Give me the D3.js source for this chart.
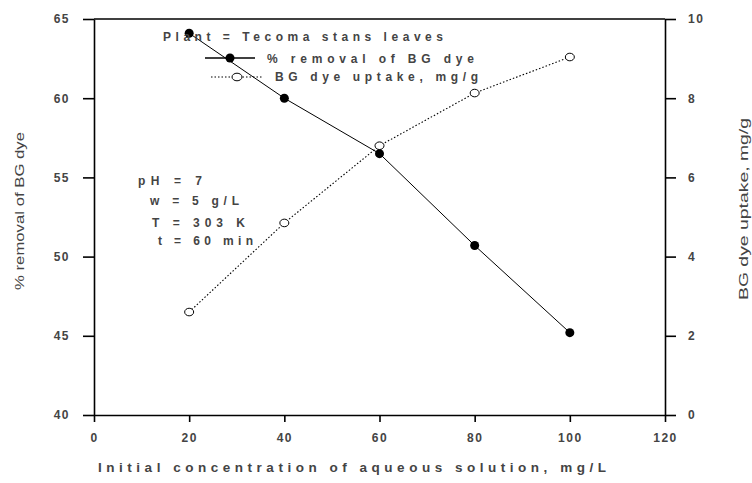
<!DOCTYPE html>
<html>
<head>
<meta charset="utf-8">
<script src="https://cdn.jsdelivr.net/npm/d3@7"></script>
<style>
  body { margin: 0; background: #fff; }
  text { font-family: "Liberation Sans", Arial, sans-serif; fill: #444; }
</style>
</head>
<body>
<div id="chart"></div>
<script>
// data
const concentration = [20, 40, 60, 80, 100]
const removal = [64.1, 60.0, 56.5, 50.7, 45.2] // % removal of BG dye (left axis)
const uptake = [2.6, 4.85, 6.8, 8.13, 9.04]     // BG dye uptake, mg/g (right axis)
const xTicks = [0, 20, 40, 60, 80, 100, 120]
const leftTicks = [40, 45, 50, 55, 60, 65]
const rightTicks = [0, 2, 4, 6, 8, 10]
const conditions = ["pH = 7", "w = 5 g/L", "T = 303 K", "t = 60 min"]

const W = 752, H = 483
const plot = { left: 94, right: 665, top: 19, bottom: 415 }

const svg = d3.select("#chart").append("svg").attr("width", W).attr("height", H)

const x = d3.scaleLinear().domain([0, 120]).range([plot.left, plot.right])
const yL = d3.scaleLinear().domain([40, 65]).range([plot.bottom, plot.top])
const yR = d3.scaleLinear().domain([0, 10]).range([plot.bottom, plot.top])

// axes
const styleAxis = (g) => {
  g.select(".domain").attr("stroke", "#000").attr("stroke-width", 1.6)
  g.selectAll(".tick line").attr("stroke", "#000").attr("stroke-width", 1.6)
  g.selectAll(".tick text")
    .attr("font-size", 12)
    .attr("font-weight", "bold")
    .attr("letter-spacing", 1.5)
    .attr("fill", "#555")
    .style("font-family", '"Liberation Sans", Arial, sans-serif')
}

svg.append("g")
  .attr("transform", `translate(0,${plot.bottom})`)
  .call(d3.axisBottom(x).tickValues(xTicks).tickSize(7).tickSizeOuter(0).tickPadding(11))
  .call(styleAxis)

svg.append("g")
  .attr("transform", `translate(${plot.left},0)`)
  .call(d3.axisLeft(yL).tickValues(leftTicks).tickSize(11).tickSizeOuter(0).tickPadding(13))
  .call(styleAxis)

svg.append("g")
  .attr("transform", `translate(${plot.right},0)`)
  .call(d3.axisRight(yR).tickValues(rightTicks).tickSize(11).tickSizeOuter(0).tickPadding(12))
  .call(styleAxis)

// top frame line
svg.append("line")
  .attr("x1", plot.left).attr("x2", plot.right)
  .attr("y1", plot.top).attr("y2", plot.top)
  .attr("stroke", "#000").attr("stroke-width", 1.6)

// series
const removalData = concentration.map((c, i) => ({ c, v: removal[i] }))
const uptakeData = concentration.map((c, i) => ({ c, v: uptake[i] }))

svg.append("path")
  .datum(uptakeData)
  .attr("fill", "none").attr("stroke", "#000").attr("stroke-width", 1.1)
  .attr("stroke-dasharray", "1.5,2")
  .attr("d", d3.line().x((d) => x(d.c)).y((d) => yR(d.v)))

svg.append("path")
  .datum(removalData)
  .attr("fill", "none").attr("stroke", "#000").attr("stroke-width", 1)
  .attr("d", d3.line().x((d) => x(d.c)).y((d) => yL(d.v)))

svg.append("g").selectAll("ellipse")
  .data(uptakeData).join("ellipse")
  .attr("cx", (d) => x(d.c)).attr("cy", (d) => yR(d.v))
  .attr("rx", 4.5).attr("ry", 3.8)
  .attr("fill", "#fff").attr("stroke", "#000").attr("stroke-width", 1)

svg.append("g").selectAll("circle")
  .data(removalData).join("circle")
  .attr("cx", (d) => x(d.c)).attr("cy", (d) => yL(d.v))
  .attr("r", 4.5).attr("fill", "#000")

// legend
const spaced = (sel, txt, x0, y0, len, size) =>
  sel.append("text").attr("x", x0).attr("y", y0)
    .attr("font-size", size).attr("font-weight", "bold")
    .attr("textLength", len).attr("lengthAdjust", "spacing")
    .text(txt)

spaced(svg, "Plant = Tecoma stans leaves", 163, 41, 280, 12)

svg.append("line").attr("x1", 205).attr("x2", 255).attr("y1", 58).attr("y2", 58)
  .attr("stroke", "#000").attr("stroke-width", 1.6)
svg.append("circle").attr("cx", 230).attr("cy", 58).attr("r", 4.5).attr("fill", "#000")
spaced(svg, "% removal of BG dye", 267, 63, 207, 12)

svg.append("line").attr("x1", 211).attr("x2", 263).attr("y1", 77).attr("y2", 77)
  .attr("stroke", "#000").attr("stroke-width", 1.1).attr("stroke-dasharray", "1.5,2")
svg.append("ellipse").attr("cx", 237).attr("cy", 77).attr("rx", 5).attr("ry", 3.8)
  .attr("fill", "#fff").attr("stroke", "#000").attr("stroke-width", 1)
spaced(svg, "BG dye uptake, mg/g", 275, 81, 203, 12)

// experimental conditions
const condPos = [[138, 185, 64], [150, 205, 89], [152, 227, 93], [158, 245, 95]]
conditions.forEach((t, i) => {
  const [cx, cy, len] = condPos[i]
  spaced(svg, t, cx, cy, len, 12)
})

// axis titles
spaced(svg, "Initial concentration of aqueous solution, mg/L", 98, 472, 508, 13.5)
  .attr("fill", "#333")

svg.append("text")
  .attr("transform", "translate(24,211) rotate(-90)")
  .attr("text-anchor", "middle").attr("font-size", 13)
  .attr("textLength", 158).attr("lengthAdjust", "spacingAndGlyphs")
  .attr("fill", "#111")
  .text("% removal of BG dye")

svg.append("text")
  .attr("transform", "translate(748,209) rotate(-90)")
  .attr("text-anchor", "middle").attr("font-size", 13)
  .attr("textLength", 182).attr("lengthAdjust", "spacingAndGlyphs")
  .attr("fill", "#111")
  .text("BG dye uptake, mg/g")
</script>
</body>
</html>
